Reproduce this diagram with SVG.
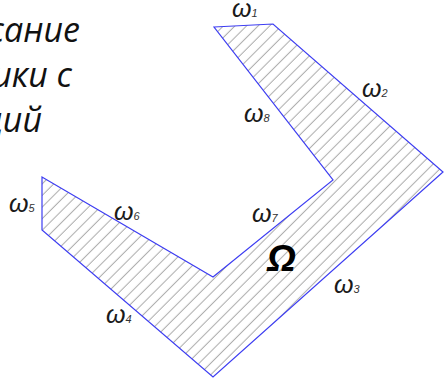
<svg xmlns="http://www.w3.org/2000/svg" width="447" height="379" viewBox="0 0 447 379">
<style>
.cap{font-family:"Open Sans","Noto Sans",sans-serif;font-style:italic;font-size:34px;fill:#111;}
.w{font-family:"Liberation Sans","DejaVu Sans",sans-serif;font-style:italic;font-size:25px;fill:#1a1a1a;}
.s{font-family:"Liberation Sans","DejaVu Sans",sans-serif;font-style:italic;font-size:11px;fill:#333;}
.om{font-family:"Liberation Sans","DejaVu Sans",sans-serif;font-style:italic;font-weight:bold;font-size:37px;fill:#000;}
</style>
<defs>
<pattern id="hatch" patternUnits="userSpaceOnUse" width="8.2" height="8.2" patternTransform="rotate(-45)">
<line x1="0" y1="4" x2="8.2" y2="4" stroke="#a0a0a0" stroke-width="0.9"/>
</pattern>
</defs>
<rect width="447" height="379" fill="#fff"/>
<g id="caption">
<text class="cap" x="80" y="42" text-anchor="end">сание</text>
<text class="cap" x="72" y="87" text-anchor="end">ики с</text>
<text class="cap" x="42" y="132" text-anchor="end">ций</text>
</g>
<g id="region">
<polygon points="214,27 273,24 443,172 213,377 42,230 42,177 213,277 333,180" fill="url(#hatch)" stroke="#3d3df2" stroke-width="1.2" stroke-linejoin="miter"/>
</g>
<g id="labels">
<text class="w" x="232" y="17">ω<tspan class="s">1</tspan></text>
<text class="w" x="362" y="97">ω<tspan class="s">2</tspan></text>
<text class="w" x="334" y="293">ω<tspan class="s">3</tspan></text>
<text class="w" x="106" y="323">ω<tspan class="s">4</tspan></text>
<text class="w" x="9" y="212">ω<tspan class="s">5</tspan></text>
<text class="w" x="114" y="220">ω<tspan class="s">6</tspan></text>
<text class="w" x="252" y="222">ω<tspan class="s">7</tspan></text>
<text class="w" x="244" y="122">ω<tspan class="s">8</tspan></text>
<text class="om" x="267" y="271">Ω</text>
</g>
</svg>
